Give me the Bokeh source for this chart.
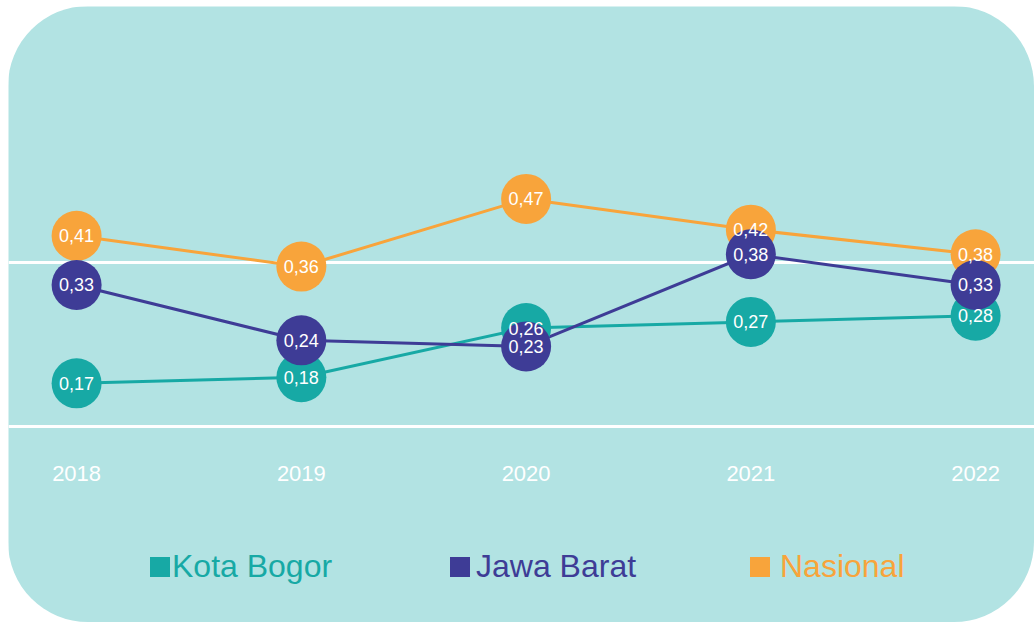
from bokeh.plotting import figure
from bokeh.models import ColumnDataSource, Range1d, FixedTicker, Legend, LegendItem
from bokeh.core.properties import value
from bokeh.embed import file_html
from bokeh.resources import INLINE

# ---- data ----
years = [2018, 2019, 2020, 2021, 2022]
year_labels = ["2018", "2019", "2020", "2021", "2022"]
series_names = ["Kota Bogor", "Jawa Barat", "Nasional"]
kota_bogor = [0.17, 0.18, 0.26, 0.27, 0.28]
jawa_barat = [0.33, 0.24, 0.23, 0.38, 0.33]
nasional = [0.41, 0.36, 0.47, 0.42, 0.38]

# ---- style ----
BG = "#b2e3e3"
COLORS = {"Kota Bogor": "#17a9a5", "Jawa Barat": "#3e3c96", "Nasional": "#f8a43b"}
FONT = "Liberation Sans"

p = figure(
    width=1026, height=616,
    x_range=Range1d(2017.697, 2022.262), y_range=Range1d(-0.219, 0.783),
    output_backend="svg", toolbar_location=None,
    y_axis_location=None, x_axis_location="below",
    min_border_left=0, min_border_right=0, min_border_top=0, min_border_bottom=0,
    background_fill_color=BG, border_fill_color=BG, outline_line_color=None,
    styles={"border-radius": "80px", "overflow": "hidden",
            "margin-left": "8px", "margin-top": "6px"},
)

p.xgrid.visible = False
p.ygrid.ticker = FixedTicker(ticks=[0.367])
p.ygrid.grid_line_color = "white"
p.ygrid.grid_line_width = 3

ax = p.xaxis[0]
ax.fixed_location = 0.1
ax.ticker = FixedTicker(ticks=years)
ax.major_label_overrides = {y: s for y, s in zip(years, year_labels)}
ax.axis_line_color = "white"
ax.axis_line_width = 3
ax.major_tick_line_color = None
ax.minor_tick_line_color = None
ax.major_label_text_color = "white"
ax.major_label_text_font = FONT
ax.major_label_text_font_size = "22px"
ax.major_label_standoff = 34

data = {"Kota Bogor": kota_bogor, "Jawa Barat": jawa_barat, "Nasional": nasional}
order = ["Kota Bogor", "Nasional", "Jawa Barat"]

for name in order:
    p.line(years, data[name], line_color=COLORS[name], line_width=3)

sources = {}
for name in order:
    vals = data[name]
    sources[name] = ColumnDataSource(dict(x=years, y=vals,
                                          lab=[f"{v:.2f}".replace(".", ",") for v in vals]))
    p.scatter("x", "y", source=sources[name], size=50, fill_color=COLORS[name], line_color=None)

for name in order:
    p.text("x", "y", text="lab", source=sources[name], text_align="center",
           text_baseline="middle", text_color="white", text_font=value(FONT),
           text_font_size="18px")

# legend: zero-size rect renderers (invisible on the plot, drawn as squares in the legend)
legend_x = {"Kota Bogor": 139, "Jawa Barat": 439, "Nasional": 739}
standoff = {"Kota Bogor": 0, "Jawa Barat": 4, "Nasional": 8}
for name in series_names:
    r = p.rect("x", "y", width=0, height=0, source=sources[name],
               fill_color=COLORS[name], line_color=None)
    lg = Legend(
        items=[LegendItem(label=name, renderers=[r])],
        location=(legend_x[name], 37), orientation="horizontal",
        glyph_width=25, glyph_height=25,
        label_text_font=FONT, label_text_font_size="32px", label_text_color=COLORS[name],
        label_standoff=standoff[name], padding=0, margin=0, spacing=0,
        border_line_color=None, background_fill_alpha=0,
    )
    p.add_layout(lg, "center")

open("out.html", "w").write(file_html(p, INLINE))
